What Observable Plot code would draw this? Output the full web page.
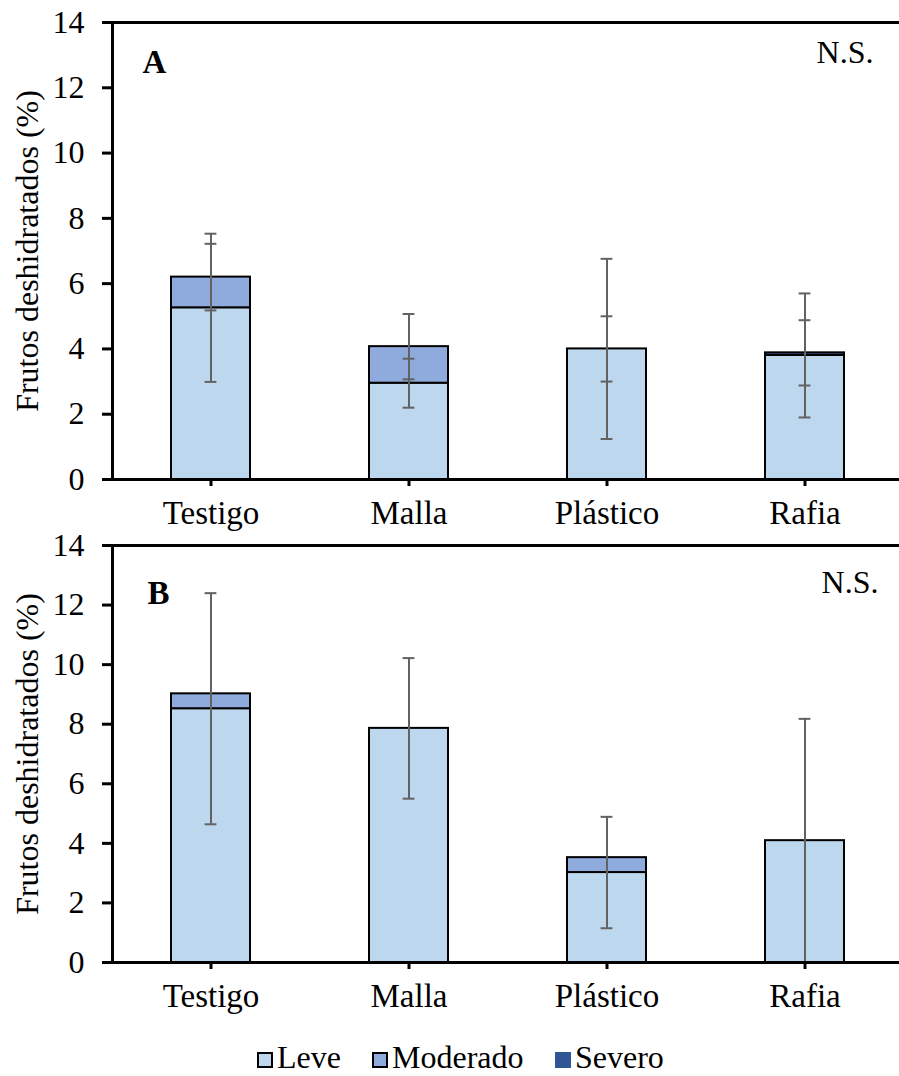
<!DOCTYPE html>
<html>
<head>
<meta charset="utf-8">
<script src="https://cdn.jsdelivr.net/npm/d3@7"></script>
<script src="https://cdn.jsdelivr.net/npm/@observablehq/plot@0.6"></script>
<style>
  html, body { margin: 0; padding: 0; background: #fff; overflow: hidden; }
  #chart svg { display: block; }
  #legend {
    position: relative; width: 899px; height: 46px;
    font-family: "Liberation Serif", "Times New Roman", serif; font-size: 32px; color: #000;
  }
  #legend .item { position: absolute; top: 22px; }
  #legend .sw { width: 16px; height: 16px; box-sizing: border-box; border: 2.5px solid #000; }
  #legend .lab { position: absolute; left: 20px; top: -11px; line-height: 32px; white-space: nowrap; }
</style>
</head>
<body>
<div id="chart"></div>
<div id="legend"></div>
<script>
// Treatments and damage classes
const categories = ["Testigo", "Malla", "Plástico", "Rafia"];
const severities = ["Leve", "Moderado", "Severo"];
const severityColors = ["#BDD7EE", "#8FAADC", "#2F5597"];
const yTicks = [0, 2, 4, 6, 8, 10, 12, 14];

// Panel A: dehydrated fruits (%) by class, with standard errors
const leveA = [5.26, 2.95, 4.0, 3.8];
const moderadoA = [0.94, 1.12, 0, 0];
const severoA = [0, 0, 0, 0.08];
const errLeveA = [2.27, 0.75, 2.76, 1.9];
const errModeradoA = [1.02, 1.0, 1.0, 0];
const errSeveroA = [0, 0, 0, 1.0];

// Panel B
const leveB = [8.52, 7.86, 3.02, 4.09];
const moderadoB = [0.5, 0, 0.5, 0];
const severoB = [0, 0, 0, 0];
const errLeveB = [3.88, 2.36, 1.87, 4.09];
const errModeradoB = [0, 0, 0, 0];
const errSeveroB = [0, 0, 0, 0];

const FONT = "'Liberation Serif', 'Times New Roman', serif";

function stackRows(series) {
  return categories.flatMap((cat, i) =>
    severities.map((sev, k) => ({cat, sev, value: series[k][i]}))
  ).filter(d => d.value > 0);
}

// Error bars sit on the cumulative top of each stacked segment
function errorRows(series, errs) {
  const rows = [];
  categories.forEach((cat, i) => {
    let cum = 0;
    severities.forEach((sev, k) => {
      cum += series[k][i];
      if (errs[k][i] > 0) rows.push({cat, sev, center: cum, err: errs[k][i]});
    });
  });
  return rows;
}

function panel({letter, series, errs, height, marginTop, marginBottom, letterDx, letterDy, nsDx, nsDy}) {
  const bars = stackRows(series);
  const eb = errorRows(series, errs);
  const capInset = 33.6;
  return Plot.plot({
    width: 899,
    height,
    marginLeft: 112,
    marginRight: 0,
    marginTop,
    marginBottom,
    style: {fontFamily: FONT, fontSize: "32px", color: "#000", background: "#fff", overflow: "visible"},
    // the category band runs a little past the right edge of the page
    x: {domain: categories, range: [112, 904], paddingInner: 0.6, paddingOuter: 0.3, label: null},
    y: {domain: [0, 14], label: null},
    color: {domain: severities, range: severityColors},
    marks: [
      Plot.barY(bars, {x: "cat", y: "value", fill: "sev", stroke: "#000", strokeWidth: 2}),
      Plot.ruleX(eb, {x: "cat", y1: d => Math.max(0, d.center - d.err), y2: d => d.center + d.err, stroke: "#626262", strokeWidth: 2}),
      Plot.tickY(eb, {x: "cat", y: d => d.center + d.err, stroke: "#626262", strokeWidth: 2, insetLeft: capInset, insetRight: capInset}),
      Plot.tickY(eb.filter(d => d.center - d.err > 0), {x: "cat", y: d => d.center - d.err, stroke: "#626262", strokeWidth: 2, insetLeft: capInset, insetRight: capInset}),
      Plot.axisY({ticks: yTicks, tickSize: 10, tickPadding: 18, strokeWidth: 3, fontSize: 32, fontFamily: FONT, label: null}),
      Plot.axisX({tickSize: 7, tickPadding: 14, strokeWidth: 3, fontSize: 33, fontFamily: FONT, label: null}),
      Plot.ruleY([0, 14], {strokeWidth: 3}),
      Plot.frame({anchor: "left", strokeWidth: 3}),
      Plot.text([letter], {frameAnchor: "top-left", dx: letterDx, dy: letterDy, textAnchor: "start", lineAnchor: "bottom", fontWeight: "bold", fontSize: 33, fontFamily: FONT}),
      Plot.text(["N.S."], {frameAnchor: "top-right", dx: nsDx, dy: nsDy, textAnchor: "end", lineAnchor: "bottom", fontSize: 32, fontFamily: FONT}),
      Plot.text(["Frutos deshidratados (%)"], {frameAnchor: "left", rotate: -90, dx: -75, textAnchor: "middle", lineAnchor: "bottom", fontSize: 32, fontFamily: FONT})
    ]
  });
}

const chart = document.getElementById("chart");
chart.append(panel({
  letter: "A",
  series: [leveA, moderadoA, severoA],
  errs: [errLeveA, errModeradoA, errSeveroA],
  height: 535, marginTop: 22, marginBottom: 56,
  letterDx: 30, letterDy: 50, nsDx: -26, nsDy: 40
}));
chart.append(panel({
  letter: "B",
  series: [leveB, moderadoB, severoB],
  errs: [errLeveB, errModeradoB, errSeveroB],
  height: 495, marginTop: 10, marginBottom: 68,
  letterDx: 35, letterDy: 58, nsDx: -21, nsDy: 47
}));

// Legend
const legend = document.getElementById("legend");
const legendX = [257, 372, 555];
severities.forEach((s, i) => {
  const item = document.createElement("div");
  item.className = "item";
  item.style.left = legendX[i] + "px";
  const sw = document.createElement("div");
  sw.className = "sw";
  sw.style.background = severityColors[i];
  if (s === "Severo") sw.style.borderColor = severityColors[i];
  const lab = document.createElement("div");
  lab.className = "lab";
  lab.textContent = s;
  item.append(sw, lab);
  legend.append(item);
});
</script>
</body>
</html>
